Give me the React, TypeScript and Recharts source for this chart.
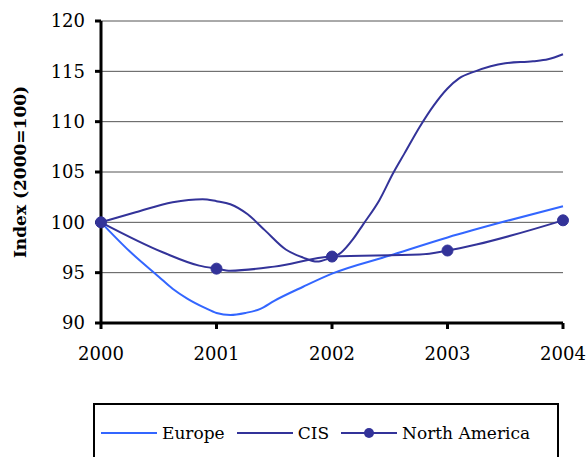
import { LineChart, Line, XAxis, YAxis, CartesianGrid } from 'recharts'

// Index values (2000 = 100)
const europeYears = [2000, 2000.25, 2000.5, 2000.62, 2000.75, 2000.9, 2001, 2001.12, 2001.25, 2001.38, 2001.5, 2001.75, 2002, 2002.5, 2003, 2003.5, 2004]
const europeValues = [100, 97.1, 94.6, 93.4, 92.4, 91.5, 91.0, 90.8, 91.0, 91.4, 92.2, 93.6, 94.9, 96.7, 98.5, 100.1, 101.6]

const cisYears = [2000, 2000.3, 2000.62, 2000.88, 2001.0, 2001.12, 2001.27, 2001.42, 2001.6, 2001.75, 2001.87, 2001.97, 2002.08, 2002.18, 2002.27, 2002.41, 2002.53, 2002.63, 2002.76, 2002.88, 2003, 2003.1, 2003.24, 2003.5, 2003.74, 2003.87, 2004]
const cisValues = [100, 101.0, 102.0, 102.3, 102.1, 101.8, 100.8, 99.2, 97.3, 96.5, 96.1, 96.4, 97.0, 98.3, 99.8, 102.2, 104.9, 106.9, 109.5, 111.6, 113.3, 114.3, 115.0, 115.8, 116.0, 116.2, 116.7]

const naYears = [2000, 2000.54, 2000.85, 2001, 2001.12, 2001.5, 2002, 2002.76, 2003, 2003.25, 2004]
const naValues = [100, 97.0, 95.7, 95.4, 95.2, 95.6, 96.6, 96.8, 97.2, 97.8, 100.2]

const xTicks = [2000, 2001, 2002, 2003, 2004]
const yTicks = [90, 95, 100, 105, 110, 115, 120]

const toPoints = (xs: number[], ys: number[]) => xs.map((x, i) => ({ x, value: ys[i] }))

const europe = toPoints(europeYears, europeValues)
const cis = toPoints(cisYears, cisValues)
const northAmerica = toPoints(naYears, naValues)

const LIGHT = '#3366ff'
const DARK = '#333399'
const FONT = '"DejaVu Serif", serif'

// markers only on the whole years
const YearDot = (props: any) => {
  const { cx, cy, payload, index } = props
  if (!Number.isInteger(payload.x)) return <g key={`d-${index}`} />
  return <circle key={`d-${index}`} cx={cx} cy={cy} r={5.5} fill={DARK} stroke={DARK} />
}

const legendItems = [
  { name: 'Europe', color: LIGHT, dot: false },
  { name: 'CIS', color: DARK, dot: false },
  { name: 'North America', color: DARK, dot: true },
]

const LegendBox = () => (
  <div
    style={{
      position: 'absolute',
      left: 93,
      top: 403,
      width: 466,
      height: 70,
      border: '2px solid #000',
      boxSizing: 'border-box',
      display: 'flex',
      alignItems: 'flex-start',
      paddingTop: 18,
      paddingLeft: 6,
      fontFamily: FONT,
      fontSize: 17,
      color: '#000',
    }}
  >
    {legendItems.map((it) => (
      <div key={it.name} style={{ display: 'flex', alignItems: 'center', marginRight: 12 }}>
        <svg width={56} height={12} style={{ marginRight: 5 }}>
          <line x1={0} y1={6} x2={56} y2={6} stroke={it.color} strokeWidth={2} />
          {it.dot && <circle cx={28} cy={6} r={5} fill={it.color} />}
        </svg>
        <span>{it.name}</span>
      </div>
    ))}
  </div>
)

export default function App() {
  return (
    <div style={{ position: 'fixed', left: 0, top: 0, width: 587, height: 457, background: '#fff', overflow: 'hidden' }}>
      <LineChart width={587} height={457} margin={{ top: 21, right: 24, bottom: 94, left: 0 }}>
        <CartesianGrid vertical={false} stroke="#555" strokeWidth={1} />
        <XAxis
          type="number"
          dataKey="x"
          domain={[2000, 2004]}
          ticks={xTicks}
          allowDuplicatedCategory={false}
          axisLine={{ stroke: '#000', strokeWidth: 3 }}
          tickLine={{ stroke: '#000', strokeWidth: 3 }}
          tickSize={6}
          tickMargin={18}
          height={40}
          tick={{ fill: '#000', fontFamily: FONT, fontSize: 18 }}
        />
        <YAxis
          type="number"
          domain={[90, 120]}
          ticks={yTicks}
          width={101}
          axisLine={{ stroke: '#000', strokeWidth: 3 }}
          tickLine={{ stroke: '#000', strokeWidth: 3 }}
          tickSize={6}
          tickMargin={10}
          tick={{ fill: '#000', fontFamily: FONT, fontSize: 18 }}
          label={{
            value: 'Index (2000=100)',
            angle: -90,
            position: 'insideLeft',
            offset: 20,
            style: { textAnchor: 'middle', fill: '#000', fontFamily: FONT, fontSize: 17, fontWeight: 'bold' },
          }}
        />
        <Line data={europe} dataKey="value" name="Europe" type="monotone" stroke={LIGHT} strokeWidth={2} dot={false} isAnimationActive={false} />
        <Line data={cis} dataKey="value" name="CIS" type="monotone" stroke={DARK} strokeWidth={2} dot={false} isAnimationActive={false} />
        <Line data={northAmerica} dataKey="value" name="North America" type="monotone" stroke={DARK} strokeWidth={2} dot={YearDot} isAnimationActive={false} />
      </LineChart>
      <LegendBox />
    </div>
  )
}
